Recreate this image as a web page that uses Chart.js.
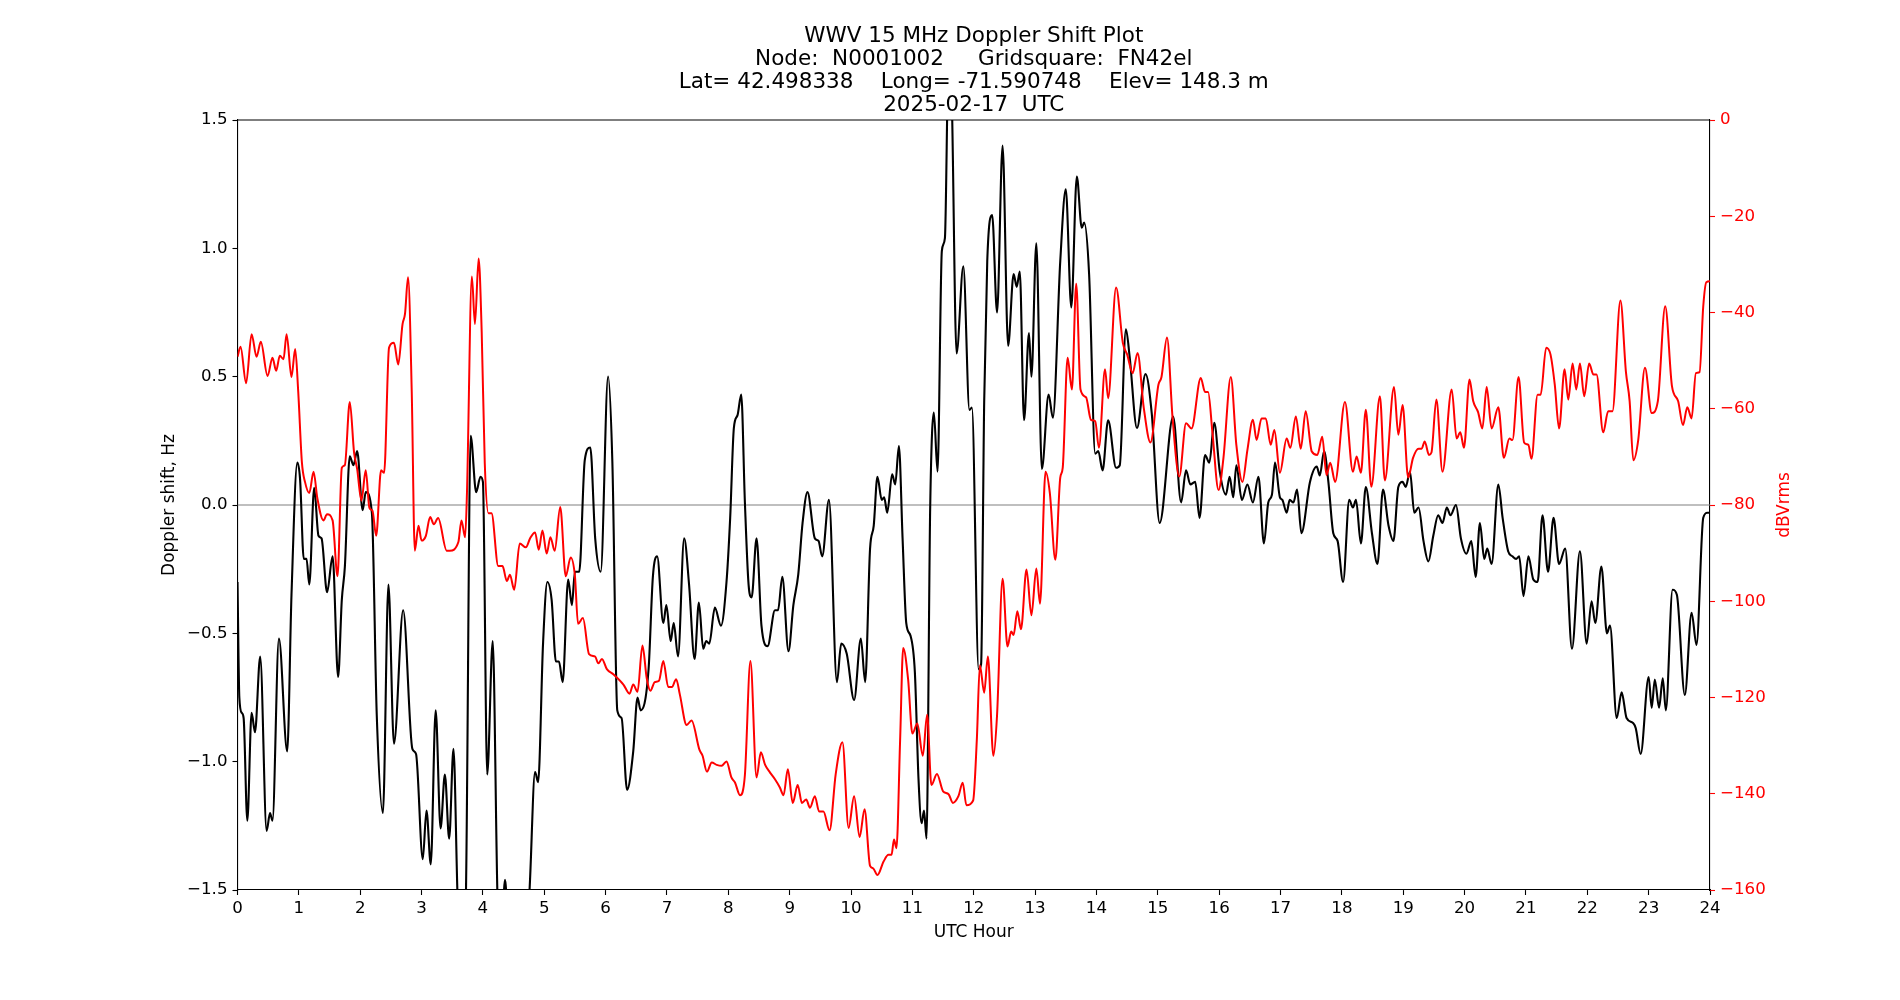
<!DOCTYPE html>
<html>
<head>
<meta charset="utf-8">
<script src="https://cdn.jsdelivr.net/npm/chart.js@4.4.1/dist/chart.umd.min.js"></script>
<style>html,body{margin:0;padding:0;background:#fff;}canvas{display:block;}</style>
</head>
<body>
<canvas id="c" width="1900" height="1000"></canvas>
<script>
// ---- text ----
const titleLines = [
  'WWV 15 MHz Doppler Shift Plot',
  'Node:  N0001002     Gridsquare:  FN42el',
  'Lat= 42.498338    Long= -71.590748    Elev= 148.3 m',
  '2025-02-17  UTC'
];
const xAxisTitle = 'UTC Hour';
const leftAxisTitle = 'Doppler shift, Hz';
const rightAxisTitle = 'dBVrms';

// ---- axis ranges / ticks ----
const hourRange = [0, 24];
const hourStep = 1;
const dopplerRange = [-1.5, 1.5];
const dopplerStep = 0.5;
const powerRange = [-160, 0];
const powerStep = 20;

// ---- Doppler shift series (black, left axis) ----
const dopplerHours = [
0.00,0.03,0.07,0.10,0.16,0.23,0.285,0.37,0.475,0.53,0.57,0.675,0.81,0.88,0.975,1.02,1.08,1.125,1.17,1.25,
1.32,1.37,1.46,1.55,1.64,1.70,1.75,1.83,1.89,1.95,2.04,2.09,2.19,2.27,2.37,2.46,2.55,2.70,2.85,2.91,
3.02,3.08,3.15,3.23,3.31,3.38,3.45,3.52,3.59,3.65,3.72,3.80,3.89,3.96,4.00,4.07,4.16,4.24,4.30,4.36,
4.42,4.55,4.70,4.76,4.85,4.90,4.98,5.05,5.12,5.19,5.24,5.30,5.39,5.45,5.50,5.57,5.66,5.75,5.83,5.92,
6.04,6.11,6.19,6.26,6.35,6.45,6.52,6.57,6.70,6.77,6.84,6.94,6.99,7.06,7.11,7.18,7.28,7.36,7.45,7.52,
7.59,7.64,7.69,7.78,7.88,7.97,8.03,8.09,8.15,8.21,8.27,8.33,8.38,8.46,8.54,8.64,8.76,8.81,8.88,8.98,
9.06,9.14,9.21,9.29,9.41,9.47,9.53,9.64,9.77,9.84,9.93,10.05,10.16,10.23,10.31,10.37,10.43,10.50,10.54,10.59,
10.67,10.72,10.78,10.84,10.90,10.97,11.04,11.10,11.15,11.19,11.23,11.29,11.35,11.41,11.48,11.53,11.59,11.64,11.72,11.83,
11.93,11.97,12.08,12.12,12.17,12.22,12.30,12.38,12.47,12.56,12.65,12.70,12.75,12.82,12.90,12.94,13.02,13.11,13.22,13.29,
13.41,13.50,13.59,13.68,13.76,13.80,13.88,13.98,14.03,14.10,14.19,14.32,14.38,14.48,14.54,14.66,14.80,14.90,15.03,15.25,
15.38,15.46,15.53,15.61,15.68,15.77,15.84,15.92,16.01,16.11,16.17,16.23,16.28,16.37,16.46,16.55,16.64,16.73,16.80,16.86,
16.91,16.99,17.03,17.10,17.15,17.21,17.27,17.34,17.48,17.59,17.64,17.71,17.78,17.86,17.93,18.02,18.12,18.18,18.23,18.31,
18.39,18.49,18.58,18.67,18.76,18.84,18.92,18.99,19.04,19.11,19.18,19.25,19.33,19.41,19.49,19.57,19.64,19.71,19.77,19.86,
19.94,20.03,20.11,20.18,20.25,20.32,20.37,20.44,20.55,20.62,20.71,20.78,20.84,20.89,20.96,21.04,21.12,21.19,21.27,21.36,
21.45,21.54,21.64,21.75,21.88,21.99,22.07,22.13,22.23,22.32,22.37,22.48,22.56,22.64,22.75,22.79,22.87,23.00,23.05,23.10,
23.17,23.23,23.28,23.39,23.46,23.59,23.70,23.78,23.89,23.96,24.00
];
const dopplerHz = [
-0.30,-0.75,-0.81,-0.83,-1.23,-0.81,-0.885,-0.59,-1.27,-1.20,-1.23,-0.52,-0.96,-0.35,0.165,0.10,-0.21,-0.21,-0.31,0.067,
-0.12,-0.13,-0.34,-0.20,-0.67,-0.37,-0.24,0.19,0.155,0.21,-0.02,0.05,-0.03,-0.82,-1.20,-0.31,-0.93,-0.41,-0.95,-0.97,
-1.38,-1.19,-1.40,-0.80,-1.26,-1.05,-1.30,-0.95,-1.55,-1.75,-1.55,0.27,0.05,0.11,0.09,-1.05,-0.53,-1.55,-1.70,-1.46,
-1.70,-1.90,-1.70,-1.50,-1.04,-1.08,-0.54,-0.30,-0.37,-0.61,-0.61,-0.69,-0.29,-0.39,-0.26,-0.26,0.175,0.224,-0.13,-0.26,
0.50,0.165,-0.80,-0.83,-1.11,-0.96,-0.75,-0.80,-0.64,-0.28,-0.20,-0.46,-0.39,-0.53,-0.46,-0.59,-0.13,-0.31,-0.60,-0.38,
-0.56,-0.53,-0.54,-0.40,-0.47,-0.30,-0.05,0.30,0.35,0.43,0.01,-0.31,-0.36,-0.13,-0.47,-0.55,-0.41,-0.41,-0.28,-0.57,
-0.39,-0.27,-0.07,0.05,-0.13,-0.14,-0.20,0.02,-0.69,-0.54,-0.58,-0.76,-0.52,-0.69,-0.17,-0.08,0.11,0.02,0.03,-0.03,
0.12,0.08,0.23,-0.13,-0.46,-0.51,-0.65,-1.07,-1.24,-1.19,-1.30,-0.01,0.36,0.13,0.99,1.04,1.75,1.60,0.59,0.93,
0.37,0.38,-0.64,-0.62,0.40,0.95,1.13,0.75,1.40,0.62,0.90,0.85,0.91,0.33,0.67,0.50,1.02,0.14,0.43,0.34,
0.95,1.23,0.77,1.28,1.08,1.10,0.90,0.20,0.21,0.135,0.33,0.145,0.155,0.685,0.58,0.30,0.51,0.36,-0.07,0.345,
0.01,0.135,0.08,0.09,-0.05,0.195,0.165,0.32,0.13,0.04,0.11,0.03,0.155,0.02,0.08,0.01,0.11,-0.15,0.01,0.04,
0.165,0.03,0.02,-0.03,0.02,0.01,0.06,-0.11,0.09,0.15,0.115,0.21,0.09,-0.11,-0.14,-0.30,0.02,-0.01,0.02,-0.15,
0.07,-0.11,-0.23,0.06,-0.08,-0.14,0.07,0.09,0.07,0.13,-0.03,-0.01,-0.14,-0.22,-0.12,-0.04,-0.07,-0.01,-0.04,0.00,
-0.13,-0.19,-0.14,-0.28,-0.07,-0.21,-0.17,-0.23,0.08,-0.05,-0.18,-0.20,-0.21,-0.20,-0.355,-0.20,-0.29,-0.30,-0.04,-0.26,
-0.05,-0.23,-0.17,-0.56,-0.18,-0.54,-0.375,-0.46,-0.24,-0.50,-0.47,-0.83,-0.73,-0.83,-0.85,-0.87,-0.97,-0.67,-0.79,-0.68,
-0.79,-0.675,-0.80,-0.33,-0.35,-0.74,-0.42,-0.545,-0.05,-0.03,-0.03
];

// ---- signal level series (red, right axis) ----
const powerHours = [
0.00,0.05,0.14,0.23,0.31,0.38,0.49,0.57,0.63,0.69,0.75,0.80,0.88,0.94,0.99,1.05,1.10,1.17,1.24,1.30,
1.40,1.46,1.55,1.63,1.70,1.75,1.83,1.90,1.95,2.02,2.09,2.15,2.20,2.26,2.34,2.39,2.47,2.55,2.62,2.69,
2.73,2.78,2.84,2.89,2.95,3.00,3.07,3.14,3.20,3.27,3.41,3.46,3.60,3.65,3.71,3.74,3.82,3.87,3.93,3.98,
4.03,4.09,4.14,4.25,4.32,4.39,4.44,4.51,4.60,4.70,4.77,4.85,4.91,4.97,5.04,5.10,5.17,5.26,5.35,5.43,
5.50,5.55,5.63,5.73,5.83,5.88,5.94,6.02,6.13,6.29,6.39,6.45,6.52,6.60,6.67,6.73,6.80,6.87,6.94,7.02,
7.08,7.15,7.21,7.32,7.40,7.53,7.58,7.65,7.73,7.81,7.89,7.97,8.05,8.11,8.19,8.27,8.36,8.46,8.53,8.60,
8.68,8.76,8.84,8.90,8.97,9.05,9.13,9.20,9.27,9.33,9.41,9.48,9.55,9.65,9.75,9.86,9.96,10.05,10.14,10.22,
10.31,10.36,10.43,10.53,10.61,10.66,10.70,10.74,10.80,10.85,10.93,11.00,11.08,11.17,11.24,11.31,11.40,11.50,11.59,11.66,
11.75,11.82,11.88,11.99,12.05,12.10,12.17,12.23,12.32,12.38,12.47,12.55,12.61,12.65,12.71,12.77,12.86,12.94,13.02,13.08,
13.17,13.24,13.33,13.41,13.45,13.53,13.60,13.67,13.74,13.83,13.91,13.98,14.04,14.14,14.19,14.32,14.43,14.50,14.59,14.67,
14.77,14.88,15.01,15.06,15.15,15.24,15.35,15.46,15.55,15.70,15.77,15.82,15.89,15.99,16.07,16.19,16.28,16.38,16.46,16.55,
16.61,16.69,16.76,16.84,16.90,16.99,17.10,17.16,17.25,17.33,17.41,17.51,17.60,17.68,17.75,17.81,17.89,18.05,18.18,18.24,
18.31,18.39,18.48,18.62,18.70,18.85,18.92,18.99,19.08,19.16,19.25,19.30,19.35,19.42,19.46,19.54,19.64,19.79,19.87,19.93,
19.99,20.08,20.14,20.22,20.29,20.36,20.44,20.55,20.64,20.73,20.78,20.88,20.97,21.04,21.09,21.19,21.24,21.33,21.40,21.47,
21.54,21.63,21.69,21.76,21.82,21.88,21.95,22.03,22.10,22.15,22.26,22.34,22.41,22.54,22.63,22.69,22.75,22.83,22.94,23.05,
23.15,23.27,23.38,23.48,23.56,23.63,23.70,23.77,23.83,23.89,23.94,24.00
];
const powerDb = [
-49.2,-47.1,-54.7,-44.5,-49.2,-46.1,-53.2,-49.4,-52.1,-49.0,-49.7,-44.5,-53.4,-47.6,-56.5,-71.2,-75.2,-77.5,-73.1,-78.5,
-83.2,-81.9,-83.2,-94.8,-72.3,-71.7,-58.6,-69.1,-72.5,-79.1,-72.8,-80.6,-81.2,-86.4,-72.8,-73.3,-47.3,-46.3,-50.8,-42.4,
-40.3,-32.7,-56.5,-89.5,-84.3,-87.4,-86.4,-82.5,-84.0,-82.7,-89.5,-89.5,-87.7,-83.2,-86.7,-77.5,-32.5,-42.4,-28.8,-44.0,
-71.2,-81.7,-81.7,-92.7,-92.7,-95.8,-94.5,-97.6,-88.0,-88.8,-86.9,-85.7,-89.3,-85.3,-90.1,-86.7,-89.5,-80.4,-94.8,-90.9,
-94.8,-104.7,-103.5,-111.0,-111.5,-112.9,-112.0,-114.1,-115.2,-117.3,-119.2,-117.3,-118.8,-109.2,-116.0,-118.6,-116.8,-116.5,-112.4,-117.8,
-117.8,-116.2,-119.4,-125.7,-124.8,-130.9,-132.1,-135.4,-133.5,-134.0,-134.2,-133.3,-136.6,-137.7,-140.3,-136.1,-112.4,-136.6,-131.4,-134.0,
-135.6,-137.0,-138.7,-140.3,-134.9,-141.9,-138.2,-141.9,-141.2,-142.9,-140.5,-143.7,-143.7,-147.6,-135.9,-129.3,-147.1,-140.5,-149.0,-143.2,
-155.0,-155.5,-156.9,-154.1,-152.7,-152.7,-149.5,-151.3,-128.8,-109.7,-116.2,-127.5,-125.4,-132.1,-123.6,-138.2,-135.9,-139.5,-140.1,-141.9,
-140.5,-137.7,-142.4,-141.4,-128.8,-113.3,-119.0,-111.5,-132.1,-123.6,-95.3,-109.4,-106.3,-107.0,-102.1,-105.8,-93.4,-102.9,-93.2,-100.5,
-73.1,-77.5,-91.4,-74.3,-72.3,-49.4,-56.0,-34.0,-56.0,-57.6,-62.3,-62.6,-68.1,-51.8,-57.8,-34.8,-46.3,-48.7,-52.6,-48.4,
-59.7,-67.0,-55.0,-53.4,-45.2,-61.8,-74.1,-63.0,-64.1,-53.6,-56.5,-56.5,-64.9,-76.9,-70.2,-53.4,-67.5,-75.2,-68.6,-62.3,
-66.5,-62.0,-62.0,-67.5,-64.4,-73.3,-66.2,-68.1,-61.6,-68.3,-60.5,-68.9,-69.6,-65.8,-73.8,-71.2,-75.2,-58.6,-73.1,-69.9,
-73.3,-60.2,-76.2,-57.4,-74.9,-55.5,-65.4,-59.2,-74.3,-70.2,-68.3,-68.3,-66.8,-69.6,-69.1,-58.1,-73.1,-56.0,-66.2,-64.9,
-68.1,-53.9,-58.4,-60.7,-64.1,-55.5,-64.1,-59.7,-70.2,-66.2,-66.5,-53.4,-67.0,-67.5,-70.4,-57.1,-57.1,-47.3,-48.7,-55.0,
-64.1,-51.8,-58.1,-50.6,-56.0,-50.6,-57.4,-50.6,-52.9,-52.9,-64.9,-60.5,-60.5,-37.5,-52.4,-58.4,-70.7,-66.5,-51.5,-60.9,
-58.4,-38.7,-55.3,-58.4,-63.4,-59.7,-62.0,-52.6,-52.4,-38.7,-33.7,-33.5
];

// ---- zero reference line ----
const zeroHours = [0, 24];
const zeroHz = [0, 0];

const toXY = (xs, ys) => xs.map((x, i) => ({x: x, y: ys[i]}));
const minus = s => String(s).replace('-', '\u2212');

const FONT = 'DejaVu Sans';

const framePlugin = {
  id: 'framePlugin',
  afterDraw(chart) {
    const {ctx, chartArea: a} = chart;
    ctx.save();
    ctx.strokeStyle = '#000';
    ctx.lineWidth = 1.1;
    ctx.beginPath();
    ctx.moveTo(a.left, a.top);
    ctx.lineTo(a.right, a.top);
    ctx.stroke();
    ctx.fillStyle = 'red';
    ctx.font = '17px "' + FONT + '"';
    ctx.translate(a.right + 74.5, (a.top + a.bottom) / 2);
    ctx.rotate(-Math.PI / 2);
    ctx.textAlign = 'center';
    ctx.textBaseline = 'middle';
    ctx.fillText(rightAxisTitle, 0, 0);
    ctx.restore();
  }
};

new Chart(document.getElementById('c'), {
  type: 'line',
  data: {
    datasets: [
      {
        label: 'dBVrms',
        data: toXY(powerHours, powerDb),
        yAxisID: 'yR',
        borderColor: '#ff0000',
        borderWidth: 2.0,
        pointRadius: 0,
        cubicInterpolationMode: 'monotone',
        borderJoinStyle: 'round',
        fill: false
      },
      {
        label: 'Doppler',
        data: toXY(dopplerHours, dopplerHz),
        yAxisID: 'y',
        borderColor: '#000000',
        borderWidth: 2.1,
        pointRadius: 0,
        cubicInterpolationMode: 'monotone',
        borderJoinStyle: 'round',
        fill: false
      },
      {
        label: 'zero',
        data: toXY(zeroHours, zeroHz),
        yAxisID: 'y',
        borderColor: '#808080',
        borderWidth: 1.1,
        pointRadius: 0,
        fill: false
      }
    ]
  },
  options: {
    responsive: false,
    animation: false,
    devicePixelRatio: 1,
    events: [],
    layout: { padding: { left: 47.5, right: 0, top: 0, bottom: 0 } },
    plugins: {
      legend: { display: false },
      tooltip: { enabled: false },
      title: {
        display: true,
        text: titleLines,
        color: '#000',
        font: { family: FONT, size: 21.5, weight: 'normal', lineHeight: '23.1px' },
        padding: { top: 24.5, bottom: 3.1 }
      }
    },
    scales: {
      x: {
        type: 'linear',
        position: 'bottom',
        min: hourRange[0],
        max: hourRange[1],
        afterFit: s => { s.height = 110; },
        ticks: {
          stepSize: hourStep,
          autoSkip: false,
          maxRotation: 0,
          color: '#000',
          padding: 3.5,
          font: { family: FONT, size: 16.67, lineHeight: 1.2 },
          callback: v => String(v)
        },
        grid: { display: true, drawOnChartArea: false, drawTicks: true, tickLength: 5, tickColor: '#000', tickWidth: 1.1 },
        border: { display: true, color: '#000', width: 1.1 },
        title: {
          display: true,
          text: xAxisTitle,
          color: '#000',
          font: { family: FONT, size: 17, lineHeight: 1.2 },
          padding: { top: 0, bottom: 57 }
        }
      },
      y: {
        type: 'linear',
        position: 'left',
        min: dopplerRange[0],
        max: dopplerRange[1],
        afterFit: s => { s.width = 190; },
        ticks: {
          stepSize: dopplerStep,
          autoSkip: false,
          color: '#000',
          padding: 5,
          font: { family: FONT, size: 16.67, lineHeight: 1.2 },
          callback: v => minus(Number(v).toFixed(1))
        },
        grid: { display: true, drawOnChartArea: false, drawTicks: true, tickLength: 5, tickColor: '#000', tickWidth: 1.1 },
        border: { display: true, color: '#000', width: 1.1 },
        title: {
          display: true,
          text: leftAxisTitle,
          color: '#000',
          font: { family: FONT, size: 17, lineHeight: 1.2 },
          padding: { top: 111.7, bottom: 0 }
        }
      },
      yR: {
        type: 'linear',
        position: 'right',
        min: powerRange[0],
        max: powerRange[1],
        afterFit: s => { s.width = 190; },
        ticks: {
          stepSize: powerStep,
          autoSkip: false,
          color: '#ff0000',
          padding: 5,
          font: { family: FONT, size: 16.67, lineHeight: 1.2 },
          callback: v => minus(v)
        },
        grid: { display: true, drawOnChartArea: false, drawTicks: true, tickLength: 5, tickColor: '#ff0000', tickWidth: 1.1 },
        border: { display: true, color: '#000', width: 1.1 },
        title: { display: false }
      }
    }
  },
  plugins: [framePlugin]
});
</script>
</body>
</html>
